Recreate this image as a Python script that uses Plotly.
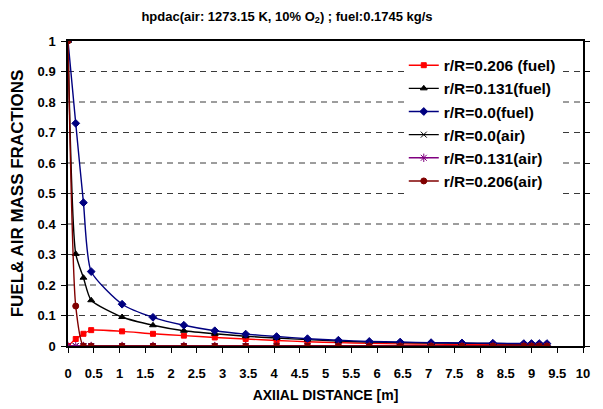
import plotly.graph_objects as go

# ---- data ----
axial_distance = [0, 0.15, 0.3, 0.45, 1.05, 1.65, 2.25, 2.85, 3.45, 4.05, 4.65,
                  5.25, 5.85, 6.45, 7.05, 7.65, 8.25, 8.85, 9.0, 9.15, 9.3]

fuel_r0206 = [0, 0.023, 0.040, 0.052, 0.048, 0.040, 0.034, 0.028, 0.023, 0.018, 0.014,
              0.011, 0.009, 0.007, 0.006, 0.005, 0.005, 0.004, 0.004, 0.004, 0.004]
fuel_r0131 = [1, 0.302, 0.224, 0.150, 0.095, 0.068, 0.050, 0.040, 0.032, 0.026, 0.021,
              0.016, 0.013, 0.011, 0.010, 0.009, 0.008, 0.007, 0.007, 0.007, 0.007]
fuel_r00 = [1, 0.73, 0.47, 0.244, 0.137, 0.094, 0.068, 0.050, 0.039, 0.031, 0.024,
            0.019, 0.015, 0.013, 0.011, 0.010, 0.009, 0.008, 0.008, 0.008, 0.008]
air_r00 = [0] * 21
air_r0131 = [0] * 21
air_r0206 = [1, 0.131, 0, 0, 0, 0, 0, 0, 0, 0, 0, 0, 0, 0, 0, 0, 0, 0, 0, 0, 0]

x_ticks = [0, 0.5, 1, 1.5, 2, 2.5, 3, 3.5, 4, 4.5, 5, 5.5, 6, 6.5, 7, 7.5, 8, 8.5, 9, 9.5, 10]
x_tick_labels = ["0", "0.5", "1", "1.5", "2", "2.5", "3", "3.5", "4", "4.5", "5",
                 "5.5", "6", "6.5", "7", "7.5", "8", "8.5", "9", "9.5", "10"]
y_ticks = [0, 0.1, 0.2, 0.3, 0.4, 0.5, 0.6, 0.7, 0.8, 0.9, 1]
y_tick_labels = ["0", "0.1", "0.2", "0.3", "0.4", "0.5", "0.6", "0.7", "0.8", "0.9", "1"]

series = [
    ("r/R=0.206 (fuel)", fuel_r0206, "#FF0000", "square", 5),
    ("r/R=0.131(fuel)", fuel_r0131, "#000000", "triangle-up", 6),
    ("r/R=0.0(fuel)", fuel_r00, "#000080", "diamond", 6),
    ("r/R=0.0(air)", air_r00, "#000000", "x-thin-open", 6),
    ("r/R=0.131(air)", air_r0131, "#800080", "asterisk-open", 7),
    ("r/R=0.206(air)", air_r0206, "#800000", "circle", 6),
]

BASE_FONT = "Liberation Sans, Arial, sans-serif"

# page body has an 8px margin: figure is sized to fill the rest of the window
FIG_W, FIG_H = 595, 401

fig = go.Figure()
for name, vals, color, symbol, size in series:
    fig.add_trace(go.Scatter(
        x=axial_distance, y=vals, name=name, mode="lines+markers",
        line=dict(color=color, width=1.4, shape="spline", smoothing=0.6),
        marker=dict(color=color, symbol=symbol, size=size,
                    line=dict(color=color, width=1)),
    ))

# dashed horizontal gridlines at the interior y ticks
for yv in y_ticks[1:-1]:
    fig.add_hline(y=yv, line=dict(color="#3a3a3a", width=1, dash="6px,5px"),
                  layer="below")

fig.update_layout(
    width=FIG_W, height=FIG_H,
    margin=dict(l=60, r=20, t=33, b=63, autoexpand=False),
    paper_bgcolor="white", plot_bgcolor="white",
    font=dict(family=BASE_FONT, color="black"),
    title=dict(
        text="hpdac(air: 1273.15 K, 10% O<sub>2</sub>) ; fuel:0.1745 kg/s",
        font=dict(size=13, weight="bold", family=BASE_FONT, color="black"),
        x=279 / FIG_W, xanchor="center", xref="container",
        y=1 - 8 / FIG_H, yanchor="middle", yref="container",
    ),
    xaxis=dict(
        range=[0, 10], tickmode="array", tickvals=x_ticks, ticktext=x_tick_labels,
        ticks="outside", ticklen=5, tickcolor="black", showgrid=False,
        showline=True, linecolor="black", linewidth=1.5, mirror=True,
        tickfont=dict(size=13, weight="bold", family=BASE_FONT),
        ticklabelstandoff=10, zeroline=False, automargin=False,
        title=dict(text="AXIIAL DISTANCE [m]", standoff=10,
                   font=dict(size=14, weight="bold", family=BASE_FONT)),
    ),
    yaxis=dict(
        range=[0, 1], tickmode="array", tickvals=y_ticks, ticktext=y_tick_labels,
        ticks="outside", ticklen=5, tickcolor="black", showgrid=False,
        showline=True, linecolor="black", linewidth=1.5, mirror="ticks",
        tickfont=dict(size=13, weight="bold", family=BASE_FONT),
        ticklabelstandoff=3, zeroline=False, automargin=False,
        title=dict(text="FUEL& AIR MASS FRACTIONS", standoff=24,
                   font=dict(size=17, weight="bold", family=BASE_FONT)),
    ),
    legend=dict(
        x=0.652, y=0.975, xanchor="left", yanchor="top",
        bgcolor="white", borderwidth=0,
        font=dict(size=15.5, weight="bold", family=BASE_FONT),
        itemwidth=30, tracegroupgap=0,
    ),
)

fig.write_html("out.html")
